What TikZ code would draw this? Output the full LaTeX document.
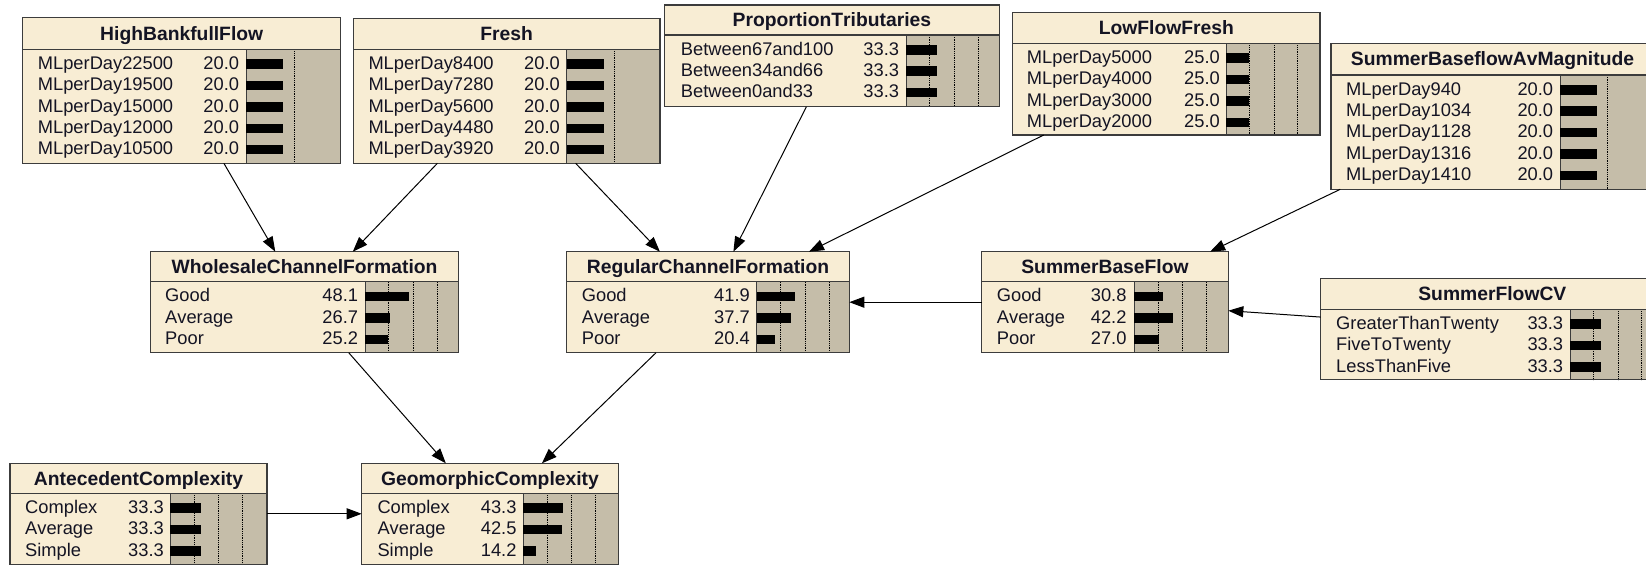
\documentclass[tikz,border=0pt]{standalone}
\usepackage{fontspec}
\setmainfont{Liberation Sans}[Kerning=Off]
\usetikzlibrary{arrows.meta}
\definecolor{cream}{RGB}{248,237,212}
\definecolor{bargray}{RGB}{197,189,169}
\definecolor{framec}{RGB}{60,60,60}
\definecolor{textc}{RGB}{20,20,35}
\tikzset{
 frame/.style={draw=framec, line width=1.4pt, inner sep=0pt, outer sep=0pt, rectangle},
 sepline/.style={draw=framec, line width=1.2pt},
 barsep/.style={draw=framec, line width=0.9pt},
 dotline/.style={draw=black, line width=0.8pt, dash pattern=on 0.9pt off 0.9pt},
 titletext/.style={font=\bfseries\fontsize{19.3}{22}\selectfont, text=textc, inner sep=0pt, anchor=base},
 rowtext/.style={font=\fontsize{18.3}{21}\selectfont, text=textc, inner sep=0pt},
 link/.style={draw=black, line width=1pt, -{Triangle[length=15pt,width=11pt]}},
}
% name, L, T, R, B, sep, barL, title, dotted list
\newcommand\bnbox[9]{%
  \fill[cream] (#2,#3) rectangle (#4,#5);
  \fill[bargray] (#7,#6) rectangle (#4,#5);
  \foreach \d in {#9} {\draw[dotline] (\d,#6) -- (\d,#5);}
  \draw[sepline] (#2,#6) -- (#4,#6);
  \draw[barsep] (#7,#6) -- (#7,#5);
  \node[titletext] (#1-title) at ({(#2+#4)/2},{(#3+#6)/2+6.8}) {#8};
  \node[frame, minimum width={#4-#2}, minimum height={#5-#3}] (#1) at ({(#2+#4)/2},{(#3+#5)/2}) {};
}
% name, labelx, numx, barL, sep, scale, list
\newcommand\bnrows[7]{%
  \foreach \lab/\val [count=\i from 0] in {#7} {
    \pgfmathsetmacro\by{#5+20+21.4*\i}
    \fill[black] (#4,\by-10) rectangle ({#4+\val*#6},\by-0.5);
    \node[rowtext, anchor=base west] (#1-l\i) at (#2,\by) {\lab};
    \node[rowtext, anchor=base east] (#1-v\i) at (#3,\by) {\val};
  }
}
\begin{document}
\begin{tikzpicture}[x=1pt, y=-1pt]
\useasboundingbox (0,0) rectangle (1646,565);
\clip (0,0) rectangle (1646,565);

\bnbox{hbf}{22.7}{17.7}{340.7}{163.3}{49.3}{246}{HighBankfullFlow}{294.7}
\bnrows{hbf}{37.7}{239.3}{246}{49.3}{1.86}{MLperDay22500/20.0, MLperDay19500/20.0, MLperDay15000/20.0, MLperDay12000/20.0, MLperDay10500/20.0}

\bnbox{fresh}{353.3}{18.3}{660}{163.3}{49.3}{566.7}{Fresh}{614}
\bnrows{fresh}{368.3}{560}{566.7}{49.3}{1.84}{MLperDay8400/20.0, MLperDay7280/20.0, MLperDay5600/20.0, MLperDay4480/20.0, MLperDay3920/20.0}

\bnbox{ptrib}{664.5}{5}{999.3}{106.7}{35}{906}{ProportionTributaries}{929.3,954.3,978.3}
\bnrows{ptrib}{680.7}{899.3}{906}{35}{0.93}{Between67and100/33.3, Between34and66/33.3, Between0and33/33.3}

\bnbox{lff}{1012.7}{12.7}{1320}{135}{43.3}{1226}{LowFlowFresh}{1249.3,1274,1297.7}
\bnrows{lff}{1026.7}{1220}{1226}{43.3}{0.92}{MLperDay5000/25.0, MLperDay4000/25.0, MLperDay3000/25.0, MLperDay2000/25.0}

\bnbox{sbam}{1331}{43.3}{1654}{189.3}{75}{1560}{SummerBaseflowAvMagnitude}{1607.3}
\bnrows{sbam}{1346}{1553.3}{1560}{75}{1.86}{MLperDay940/20.0, MLperDay1034/20.0, MLperDay1128/20.0, MLperDay1316/20.0, MLperDay1410/20.0}

\bnbox{wcf}{150.7}{251.7}{458.3}{352.7}{281.7}{365}{WholesaleChannelFormation}{388.3,413.3,437.3}
\bnrows{wcf}{165}{358.3}{365}{281.7}{0.92}{Good/48.1, Average/26.7, Poor/25.2}

\bnbox{rcf}{566.7}{251.7}{849.3}{352.7}{281.7}{756.7}{RegularChannelFormation}{780.7,805,829.3}
\bnrows{rcf}{581.7}{750}{756.7}{281.7}{0.92}{Good/41.9, Average/37.7, Poor/20.4}

\bnbox{sbf}{981.7}{251.7}{1228.3}{352.7}{281.7}{1134.3}{SummerBaseFlow}{1158.3,1182.7,1206.7}
\bnrows{sbf}{996.7}{1126.7}{1134.3}{281.7}{0.92}{Good/30.8, Average/42.2, Poor/27.0}

\bnbox{sfcv}{1320.7}{278.3}{1664}{379.5}{309.3}{1570}{SummerFlowCV}{1593.3,1618.3,1641.7}
\bnrows{sfcv}{1336}{1563.3}{1570}{309.3}{0.92}{GreaterThanTwenty/33.3, FiveToTwenty/33.3, LessThanFive/33.3}

\bnbox{ac}{10}{463.3}{267}{564.3}{493.3}{170}{AntecedentComplexity}{194,218.3,242.7}
\bnrows{ac}{25}{164}{170}{493.3}{0.92}{Complex/33.3, Average/33.3, Simple/33.3}

\bnbox{gc}{361.7}{463.3}{618.3}{564.3}{493.3}{523.3}{GeomorphicComplexity}{547.3,571.7,595.7}
\bnrows{gc}{377.3}{516.7}{523.3}{493.3}{0.92}{Complex/43.3, Average/42.5, Simple/14.2}

\draw[link] (hbf) -- (wcf);
\draw[link] (fresh) -- (wcf);
\draw[link] (fresh) -- (rcf);
\draw[link] (ptrib) -- (rcf);
\draw[link] (lff) -- (rcf);
\draw[link] (sbam) -- (sbf);
\draw[link] (sbf) -- (rcf);
\draw[link] (sfcv) -- (sbf);
\draw[link] (wcf) -- (gc);
\draw[link] (rcf) -- (gc);
\draw[link] (ac) -- (gc);
\end{tikzpicture}
\end{document}
